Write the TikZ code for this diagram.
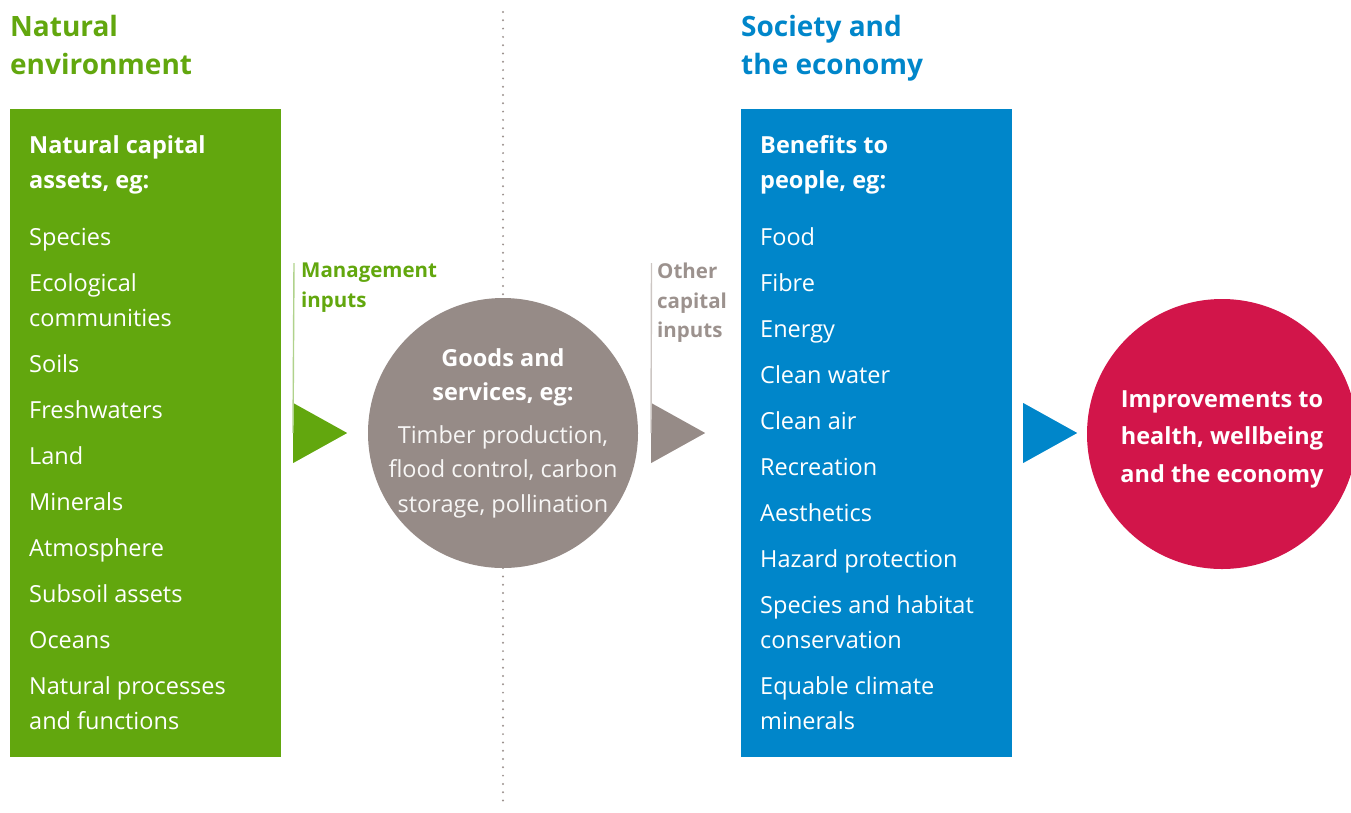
\documentclass[tikz,border=0pt]{standalone}
\usepackage{fontspec}
\setmainfont{Open Sans}
\usetikzlibrary{shapes.geometric}

\definecolor{natgreen}{RGB}{98,167,14}
\definecolor{socblue}{RGB}{0,134,202}
\definecolor{goodsgrey}{RGB}{150,139,135}
\definecolor{labelgrey}{RGB}{156,146,142}
\definecolor{healthred}{RGB}{210,21,74}
\definecolor{palegreen}{RGB}{176,210,140}
\definecolor{palegrey}{RGB}{204,198,195}

\tikzset{
  pillar/.style={fill=#1, minimum width=271pt, minimum height=648pt, anchor=north west, inner sep=0pt},
  heading/.style={anchor=north west, align=left, inner sep=0pt, text=#1, font=\bfseries\fontsize{28}{38}\selectfont},
  itemlist/.style={anchor=north west, align=left, inner sep=0pt, text=white, font=\fontsize{23.5}{35}\selectfont},
  inputlabel/.style={anchor=north west, align=left, inner sep=0pt, text=#1, font=\bfseries\fontsize{20.5}{29.5}\selectfont},
  pointer/.style={isosceles triangle, isosceles triangle stretches, fill=#1, minimum width=60pt, minimum height=54pt, inner sep=0pt, anchor=west},
  blob/.style={circle, fill=#1, minimum size=270pt, inner sep=-20pt, text=white, align=center},
}

\begin{document}
\begin{tikzpicture}[x=1pt, y=-1pt]
\useasboundingbox (0,0) rectangle (1351,812);

% dotted divider
\coordinate (divtop) at (503,12);
\coordinate (divbot) at (503,805);
\draw[labelgrey, line width=2.2pt, line cap=round, dash pattern=on 0pt off 8.3pt] (divtop) -- (divbot);

% titles
\node[heading=natgreen] (natenv) at (10,15) {Natural\\environment};
\node[heading=socblue] (society) at (741,15) {Society and\\the economy};

% natural capital column
\node[pillar=natgreen] (assets) at (10,109) {};
\node[itemlist] (assetlist) at (29,135) {\textbf{Natural capital}\\\textbf{assets, eg:}\\[22pt]
  Species\\[11pt]Ecological\\communities\\[11pt]Soils\\[11pt]Freshwaters\\[11pt]Land\\[11pt]
  Minerals\\[11pt]Atmosphere\\[11pt]Subsoil assets\\[11pt]Oceans\\[11pt]
  Natural processes\\and functions};

% benefits column
\node[pillar=socblue] (benefits) at (741,109) {};
\node[itemlist] (benefitlist) at (760,135) {\textbf{Benefits to}\\\textbf{people, eg:}\\[22pt]
  Food\\[11pt]Fibre\\[11pt]Energy\\[11pt]Clean water\\[11pt]Clean air\\[11pt]
  Recreation\\[11pt]Aesthetics\\[11pt]Hazard protection\\[11pt]
  Species and habitat\\conservation\\[11pt]Equable climate\\minerals};

% circles
\node[blob=goodsgrey, font=\fontsize{23.5}{34.5}\selectfont] (goods) at (503,433) {\textbf{Goods and}\\\textbf{services, eg:}\\[8pt]
  \textcolor{white!92!goodsgrey}{Timber production,}\\\textcolor{white!92!goodsgrey}{flood control, carbon}\\\textcolor{white!92!goodsgrey}{storage, pollination}};
\node[blob=healthred, font=\bfseries\fontsize{23.5}{37.5}\selectfont] (health) at (1222,434)
  {\rule{0pt}{27pt}Improvements to\\health, wellbeing\\and the economy};

% inputs
\coordinate (mgmttop) at (294,263);
\coordinate (othertop) at (651.5,263);
\node[pointer=natgreen] (mgmttri) at (293,433) {};
\node[pointer=goodsgrey] (othertri) at (651,433) {};
\node[pointer=socblue] (healthtri) at (1023,433) {};
\draw[palegreen, line width=1.4pt] (mgmttop) -- (mgmttri.west);
\draw[palegrey, line width=1.4pt] (othertop) -- (othertri.west);
\node[inputlabel=natgreen] (mgmt) at (301,263) {Management\\inputs};
\node[inputlabel=labelgrey] (other) at (657,263) {Other\\capital\\inputs};

\end{tikzpicture}
\end{document}
